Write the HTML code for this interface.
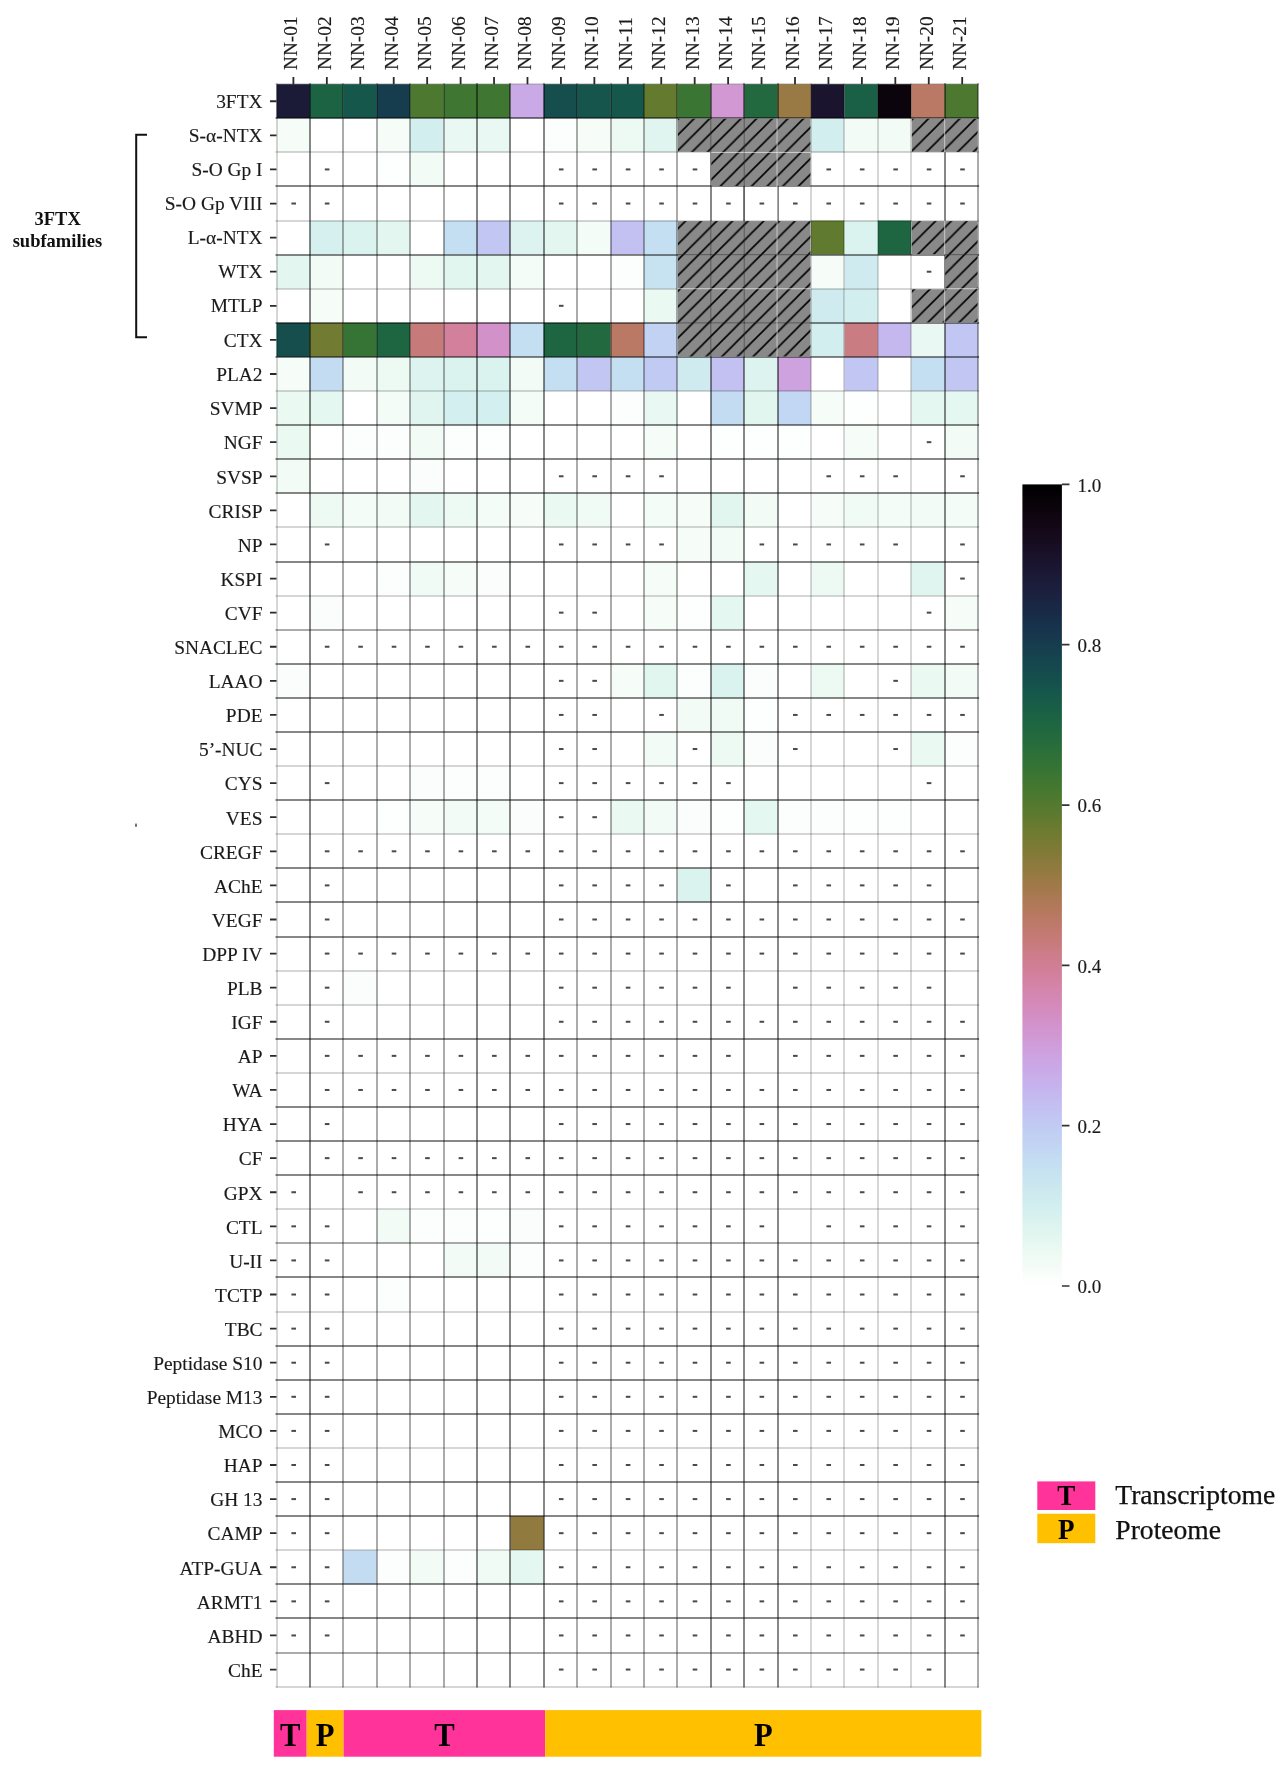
<!DOCTYPE html><html><head><meta charset="utf-8"><title>Heatmap</title><style>html,body{margin:0;padding:0;background:#fff;width:1288px;height:1772px;overflow:hidden}svg{display:block;will-change:transform}text{font-family:"Liberation Serif",serif}</style></head><body>
<svg width="1288" height="1772" viewBox="0 0 1288 1772">
<defs><pattern id="h" patternUnits="userSpaceOnUse" width="15.63" height="15.63"><rect width="15.63" height="15.63" fill="#898989"/><path d="M-3,3L3,-3M0,15.63L15.63,0M12.63,18.63L18.63,12.63" stroke="#000" stroke-width="1.6"/></pattern>
<linearGradient id="cb" x1="0" y1="1" x2="0" y2="0">
<stop offset="0.00" stop-color="#ffffff"/>
<stop offset="0.01" stop-color="#fbfefc"/>
<stop offset="0.02" stop-color="#f6fcf8"/>
<stop offset="0.03" stop-color="#f2fbf6"/>
<stop offset="0.04" stop-color="#edfaf4"/>
<stop offset="0.05" stop-color="#e9f8f2"/>
<stop offset="0.06" stop-color="#e3f6f0"/>
<stop offset="0.07" stop-color="#e0f5f0"/>
<stop offset="0.08" stop-color="#dbf3ef"/>
<stop offset="0.09" stop-color="#d6f0ef"/>
<stop offset="0.10" stop-color="#d3eeef"/>
<stop offset="0.11" stop-color="#cfebef"/>
<stop offset="0.12" stop-color="#cce9ef"/>
<stop offset="0.13" stop-color="#c9e5f0"/>
<stop offset="0.14" stop-color="#c7e3f1"/>
<stop offset="0.15" stop-color="#c5dff2"/>
<stop offset="0.16" stop-color="#c4dcf2"/>
<stop offset="0.17" stop-color="#c2d7f3"/>
<stop offset="0.18" stop-color="#c2d2f3"/>
<stop offset="0.19" stop-color="#c1cff3"/>
<stop offset="0.20" stop-color="#c1caf3"/>
<stop offset="0.21" stop-color="#c2c6f3"/>
<stop offset="0.22" stop-color="#c3c1f2"/>
<stop offset="0.23" stop-color="#c4bdf1"/>
<stop offset="0.24" stop-color="#c5b8ef"/>
<stop offset="0.25" stop-color="#c7b2ed"/>
<stop offset="0.26" stop-color="#c8afea"/>
<stop offset="0.27" stop-color="#caa9e7"/>
<stop offset="0.28" stop-color="#cca6e4"/>
<stop offset="0.29" stop-color="#cea1df"/>
<stop offset="0.30" stop-color="#cf9ddb"/>
<stop offset="0.31" stop-color="#d198d4"/>
<stop offset="0.32" stop-color="#d295d0"/>
<stop offset="0.33" stop-color="#d391c9"/>
<stop offset="0.34" stop-color="#d48dc1"/>
<stop offset="0.35" stop-color="#d48abb"/>
<stop offset="0.36" stop-color="#d487b2"/>
<stop offset="0.37" stop-color="#d485ac"/>
<stop offset="0.38" stop-color="#d382a3"/>
<stop offset="0.39" stop-color="#d2809c"/>
<stop offset="0.40" stop-color="#d07e93"/>
<stop offset="0.41" stop-color="#ce7d8c"/>
<stop offset="0.42" stop-color="#ca7c83"/>
<stop offset="0.43" stop-color="#c67a79"/>
<stop offset="0.44" stop-color="#c37a73"/>
<stop offset="0.45" stop-color="#be796a"/>
<stop offset="0.46" stop-color="#b97964"/>
<stop offset="0.47" stop-color="#b3795b"/>
<stop offset="0.48" stop-color="#ae7956"/>
<stop offset="0.49" stop-color="#a7794f"/>
<stop offset="0.50" stop-color="#9f7948"/>
<stop offset="0.51" stop-color="#997944"/>
<stop offset="0.52" stop-color="#907a3e"/>
<stop offset="0.53" stop-color="#8a7a3b"/>
<stop offset="0.54" stop-color="#817a37"/>
<stop offset="0.55" stop-color="#7b7a35"/>
<stop offset="0.56" stop-color="#727b32"/>
<stop offset="0.57" stop-color="#6c7b31"/>
<stop offset="0.58" stop-color="#637a2f"/>
<stop offset="0.59" stop-color="#5a7a2f"/>
<stop offset="0.60" stop-color="#54792f"/>
<stop offset="0.61" stop-color="#4c792f"/>
<stop offset="0.62" stop-color="#467830"/>
<stop offset="0.63" stop-color="#3f7632"/>
<stop offset="0.64" stop-color="#3a7533"/>
<stop offset="0.65" stop-color="#337335"/>
<stop offset="0.66" stop-color="#2f7137"/>
<stop offset="0.67" stop-color="#2a6e3a"/>
<stop offset="0.68" stop-color="#256b3d"/>
<stop offset="0.69" stop-color="#22693f"/>
<stop offset="0.70" stop-color="#1e6542"/>
<stop offset="0.71" stop-color="#1c6344"/>
<stop offset="0.72" stop-color="#195e47"/>
<stop offset="0.73" stop-color="#185b48"/>
<stop offset="0.74" stop-color="#16574b"/>
<stop offset="0.75" stop-color="#15524c"/>
<stop offset="0.76" stop-color="#154e4d"/>
<stop offset="0.77" stop-color="#15494e"/>
<stop offset="0.78" stop-color="#15464e"/>
<stop offset="0.79" stop-color="#16404e"/>
<stop offset="0.80" stop-color="#163d4e"/>
<stop offset="0.81" stop-color="#17374d"/>
<stop offset="0.82" stop-color="#17344c"/>
<stop offset="0.83" stop-color="#182f49"/>
<stop offset="0.84" stop-color="#192a46"/>
<stop offset="0.85" stop-color="#1a2744"/>
<stop offset="0.86" stop-color="#1a2240"/>
<stop offset="0.87" stop-color="#1b1f3d"/>
<stop offset="0.88" stop-color="#1b1b38"/>
<stop offset="0.89" stop-color="#1a1835"/>
<stop offset="0.90" stop-color="#1a142f"/>
<stop offset="0.91" stop-color="#19122b"/>
<stop offset="0.92" stop-color="#180f25"/>
<stop offset="0.93" stop-color="#160c1f"/>
<stop offset="0.94" stop-color="#140a1b"/>
<stop offset="0.95" stop-color="#110815"/>
<stop offset="0.96" stop-color="#0f0611"/>
<stop offset="0.97" stop-color="#0b040c"/>
<stop offset="0.98" stop-color="#080308"/>
<stop offset="0.99" stop-color="#030103"/>
<stop offset="1.00" stop-color="#000000"/>
</linearGradient></defs>
<rect x="276.50" y="84.20" width="33.43" height="34.11" fill="#1b1b38"/>
<rect x="309.91" y="84.20" width="33.43" height="34.11" fill="#1c6344"/>
<rect x="343.32" y="84.20" width="33.43" height="34.11" fill="#16574b"/>
<rect x="376.73" y="84.20" width="33.43" height="34.11" fill="#163d4e"/>
<rect x="410.14" y="84.20" width="33.43" height="34.11" fill="#4c792f"/>
<rect x="443.55" y="84.20" width="33.43" height="34.11" fill="#3f7632"/>
<rect x="476.96" y="84.20" width="33.43" height="34.11" fill="#3f7632"/>
<rect x="510.37" y="84.20" width="33.43" height="34.11" fill="#caa9e7"/>
<rect x="543.78" y="84.20" width="33.43" height="34.11" fill="#154e4d"/>
<rect x="577.19" y="84.20" width="33.43" height="34.11" fill="#16554b"/>
<rect x="610.60" y="84.20" width="33.43" height="34.11" fill="#16574b"/>
<rect x="644.00" y="84.20" width="33.43" height="34.11" fill="#637a2f"/>
<rect x="677.41" y="84.20" width="33.43" height="34.11" fill="#3a7533"/>
<rect x="710.82" y="84.20" width="33.43" height="34.11" fill="#d198d4"/>
<rect x="744.23" y="84.20" width="33.43" height="34.11" fill="#22693f"/>
<rect x="777.64" y="84.20" width="33.43" height="34.11" fill="#997944"/>
<rect x="811.05" y="84.20" width="33.43" height="34.11" fill="#1a142f"/>
<rect x="844.46" y="84.20" width="33.43" height="34.11" fill="#1a6046"/>
<rect x="877.87" y="84.20" width="33.43" height="34.11" fill="#0b040c"/>
<rect x="911.28" y="84.20" width="33.43" height="34.11" fill="#b97964"/>
<rect x="944.69" y="84.20" width="33.43" height="34.11" fill="#4c792f"/>
<rect x="276.50" y="118.29" width="33.43" height="34.11" fill="#f6fcf8"/>
<rect x="376.73" y="118.29" width="33.43" height="34.11" fill="#f6fcf8"/>
<rect x="410.14" y="118.29" width="33.43" height="34.11" fill="#d3eeef"/>
<rect x="443.55" y="118.29" width="33.43" height="34.11" fill="#e9f8f2"/>
<rect x="476.96" y="118.29" width="33.43" height="34.11" fill="#e9f8f2"/>
<rect x="543.78" y="118.29" width="33.43" height="34.11" fill="#fbfefc"/>
<rect x="577.19" y="118.29" width="33.43" height="34.11" fill="#f6fcf8"/>
<rect x="610.60" y="118.29" width="33.43" height="34.11" fill="#edfaf4"/>
<rect x="644.00" y="118.29" width="33.43" height="34.11" fill="#e0f5f0"/>
<rect x="811.05" y="118.29" width="33.43" height="34.11" fill="#d3eeef"/>
<rect x="844.46" y="118.29" width="33.43" height="34.11" fill="#f2fbf6"/>
<rect x="877.87" y="118.29" width="33.43" height="34.11" fill="#f2fbf6"/>
<rect x="376.73" y="152.39" width="33.43" height="34.11" fill="#fdfefe"/>
<rect x="410.14" y="152.39" width="33.43" height="34.11" fill="#f2fbf6"/>
<rect x="309.91" y="220.57" width="33.43" height="34.11" fill="#d6f0ef"/>
<rect x="343.32" y="220.57" width="33.43" height="34.11" fill="#dbf3ef"/>
<rect x="376.73" y="220.57" width="33.43" height="34.11" fill="#e3f6f0"/>
<rect x="443.55" y="220.57" width="33.43" height="34.11" fill="#c5dff2"/>
<rect x="476.96" y="220.57" width="33.43" height="34.11" fill="#c2c6f3"/>
<rect x="510.37" y="220.57" width="33.43" height="34.11" fill="#dcf3ef"/>
<rect x="543.78" y="220.57" width="33.43" height="34.11" fill="#e3f6f0"/>
<rect x="577.19" y="220.57" width="33.43" height="34.11" fill="#f4fcf7"/>
<rect x="610.60" y="220.57" width="33.43" height="34.11" fill="#c3c1f2"/>
<rect x="644.00" y="220.57" width="33.43" height="34.11" fill="#c5dff2"/>
<rect x="811.05" y="220.57" width="33.43" height="34.11" fill="#607a2f"/>
<rect x="844.46" y="220.57" width="33.43" height="34.11" fill="#dbf3ef"/>
<rect x="877.87" y="220.57" width="33.43" height="34.11" fill="#1e6542"/>
<rect x="276.50" y="254.67" width="33.43" height="34.11" fill="#e3f6f0"/>
<rect x="309.91" y="254.67" width="33.43" height="34.11" fill="#f2fbf6"/>
<rect x="410.14" y="254.67" width="33.43" height="34.11" fill="#edfaf4"/>
<rect x="443.55" y="254.67" width="33.43" height="34.11" fill="#e2f6f0"/>
<rect x="476.96" y="254.67" width="33.43" height="34.11" fill="#e3f6f0"/>
<rect x="510.37" y="254.67" width="33.43" height="34.11" fill="#f4fcf7"/>
<rect x="610.60" y="254.67" width="33.43" height="34.11" fill="#fbfefc"/>
<rect x="644.00" y="254.67" width="33.43" height="34.11" fill="#c7e3f1"/>
<rect x="811.05" y="254.67" width="33.43" height="34.11" fill="#f6fcf8"/>
<rect x="844.46" y="254.67" width="33.43" height="34.11" fill="#cfebef"/>
<rect x="309.91" y="288.76" width="33.43" height="34.11" fill="#f6fcf8"/>
<rect x="644.00" y="288.76" width="33.43" height="34.11" fill="#ebf9f3"/>
<rect x="811.05" y="288.76" width="33.43" height="34.11" fill="#cfebef"/>
<rect x="844.46" y="288.76" width="33.43" height="34.11" fill="#d3eeef"/>
<rect x="276.50" y="322.86" width="33.43" height="34.11" fill="#154e4d"/>
<rect x="309.91" y="322.86" width="33.43" height="34.11" fill="#727b32"/>
<rect x="343.32" y="322.86" width="33.43" height="34.11" fill="#357435"/>
<rect x="376.73" y="322.86" width="33.43" height="34.11" fill="#1e6542"/>
<rect x="410.14" y="322.86" width="33.43" height="34.11" fill="#c67a79"/>
<rect x="443.55" y="322.86" width="33.43" height="34.11" fill="#d2809c"/>
<rect x="476.96" y="322.86" width="33.43" height="34.11" fill="#d391c9"/>
<rect x="510.37" y="322.86" width="33.43" height="34.11" fill="#c5dff2"/>
<rect x="543.78" y="322.86" width="33.43" height="34.11" fill="#1e6542"/>
<rect x="577.19" y="322.86" width="33.43" height="34.11" fill="#22693f"/>
<rect x="610.60" y="322.86" width="33.43" height="34.11" fill="#b97964"/>
<rect x="644.00" y="322.86" width="33.43" height="34.11" fill="#c2d2f3"/>
<rect x="811.05" y="322.86" width="33.43" height="34.11" fill="#d3eeef"/>
<rect x="844.46" y="322.86" width="33.43" height="34.11" fill="#ca7c83"/>
<rect x="877.87" y="322.86" width="33.43" height="34.11" fill="#c5b8ef"/>
<rect x="911.28" y="322.86" width="33.43" height="34.11" fill="#e9f8f2"/>
<rect x="944.69" y="322.86" width="33.43" height="34.11" fill="#c2c6f3"/>
<rect x="276.50" y="356.95" width="33.43" height="34.11" fill="#f6fcf8"/>
<rect x="309.91" y="356.95" width="33.43" height="34.11" fill="#c4dcf2"/>
<rect x="343.32" y="356.95" width="33.43" height="34.11" fill="#f2fbf6"/>
<rect x="376.73" y="356.95" width="33.43" height="34.11" fill="#edfaf4"/>
<rect x="410.14" y="356.95" width="33.43" height="34.11" fill="#dcf3ef"/>
<rect x="443.55" y="356.95" width="33.43" height="34.11" fill="#dbf3ef"/>
<rect x="476.96" y="356.95" width="33.43" height="34.11" fill="#dbf3ef"/>
<rect x="510.37" y="356.95" width="33.43" height="34.11" fill="#f2fbf6"/>
<rect x="543.78" y="356.95" width="33.43" height="34.11" fill="#c5dff2"/>
<rect x="577.19" y="356.95" width="33.43" height="34.11" fill="#c2c6f3"/>
<rect x="610.60" y="356.95" width="33.43" height="34.11" fill="#c5dff2"/>
<rect x="644.00" y="356.95" width="33.43" height="34.11" fill="#c1caf3"/>
<rect x="677.41" y="356.95" width="33.43" height="34.11" fill="#cfebef"/>
<rect x="710.82" y="356.95" width="33.43" height="34.11" fill="#c3c1f2"/>
<rect x="744.23" y="356.95" width="33.43" height="34.11" fill="#dcf3ef"/>
<rect x="777.64" y="356.95" width="33.43" height="34.11" fill="#cea1df"/>
<rect x="844.46" y="356.95" width="33.43" height="34.11" fill="#c2c6f3"/>
<rect x="911.28" y="356.95" width="33.43" height="34.11" fill="#c5dff2"/>
<rect x="944.69" y="356.95" width="33.43" height="34.11" fill="#c2c6f3"/>
<rect x="276.50" y="391.04" width="33.43" height="34.11" fill="#ebf9f3"/>
<rect x="309.91" y="391.04" width="33.43" height="34.11" fill="#e5f7f1"/>
<rect x="376.73" y="391.04" width="33.43" height="34.11" fill="#f4fcf7"/>
<rect x="410.14" y="391.04" width="33.43" height="34.11" fill="#e0f5f0"/>
<rect x="443.55" y="391.04" width="33.43" height="34.11" fill="#d4efef"/>
<rect x="476.96" y="391.04" width="33.43" height="34.11" fill="#d4efef"/>
<rect x="510.37" y="391.04" width="33.43" height="34.11" fill="#f4fcf7"/>
<rect x="610.60" y="391.04" width="33.43" height="34.11" fill="#fbfefc"/>
<rect x="644.00" y="391.04" width="33.43" height="34.11" fill="#e9f8f2"/>
<rect x="710.82" y="391.04" width="33.43" height="34.11" fill="#c4dcf2"/>
<rect x="744.23" y="391.04" width="33.43" height="34.11" fill="#e2f6f0"/>
<rect x="777.64" y="391.04" width="33.43" height="34.11" fill="#c2d7f3"/>
<rect x="811.05" y="391.04" width="33.43" height="34.11" fill="#f6fcf8"/>
<rect x="844.46" y="391.04" width="33.43" height="34.11" fill="#fdfefe"/>
<rect x="911.28" y="391.04" width="33.43" height="34.11" fill="#e5f7f1"/>
<rect x="944.69" y="391.04" width="33.43" height="34.11" fill="#e5f7f1"/>
<rect x="276.50" y="425.14" width="33.43" height="34.11" fill="#ebf9f3"/>
<rect x="343.32" y="425.14" width="33.43" height="34.11" fill="#fbfefc"/>
<rect x="376.73" y="425.14" width="33.43" height="34.11" fill="#fbfefc"/>
<rect x="410.14" y="425.14" width="33.43" height="34.11" fill="#f2fbf6"/>
<rect x="443.55" y="425.14" width="33.43" height="34.11" fill="#fbfefc"/>
<rect x="476.96" y="425.14" width="33.43" height="34.11" fill="#fdfefe"/>
<rect x="644.00" y="425.14" width="33.43" height="34.11" fill="#f6fcf8"/>
<rect x="710.82" y="425.14" width="33.43" height="34.11" fill="#fdfefe"/>
<rect x="744.23" y="425.14" width="33.43" height="34.11" fill="#fdfefe"/>
<rect x="777.64" y="425.14" width="33.43" height="34.11" fill="#fdfefe"/>
<rect x="844.46" y="425.14" width="33.43" height="34.11" fill="#f6fcf8"/>
<rect x="944.69" y="425.14" width="33.43" height="34.11" fill="#f2fbf6"/>
<rect x="276.50" y="459.23" width="33.43" height="34.11" fill="#f2fbf6"/>
<rect x="410.14" y="459.23" width="33.43" height="34.11" fill="#fafdfb"/>
<rect x="309.91" y="493.32" width="33.43" height="34.11" fill="#edfaf4"/>
<rect x="343.32" y="493.32" width="33.43" height="34.11" fill="#f4fcf7"/>
<rect x="376.73" y="493.32" width="33.43" height="34.11" fill="#f2fbf6"/>
<rect x="410.14" y="493.32" width="33.43" height="34.11" fill="#e3f6f0"/>
<rect x="443.55" y="493.32" width="33.43" height="34.11" fill="#edfaf4"/>
<rect x="476.96" y="493.32" width="33.43" height="34.11" fill="#f4fcf7"/>
<rect x="510.37" y="493.32" width="33.43" height="34.11" fill="#f6fcf8"/>
<rect x="543.78" y="493.32" width="33.43" height="34.11" fill="#ebf9f3"/>
<rect x="577.19" y="493.32" width="33.43" height="34.11" fill="#f0fbf5"/>
<rect x="644.00" y="493.32" width="33.43" height="34.11" fill="#f4fcf7"/>
<rect x="677.41" y="493.32" width="33.43" height="34.11" fill="#f6fcf8"/>
<rect x="710.82" y="493.32" width="33.43" height="34.11" fill="#e2f6f0"/>
<rect x="744.23" y="493.32" width="33.43" height="34.11" fill="#f2fbf6"/>
<rect x="811.05" y="493.32" width="33.43" height="34.11" fill="#f6fcf8"/>
<rect x="844.46" y="493.32" width="33.43" height="34.11" fill="#f0fbf5"/>
<rect x="877.87" y="493.32" width="33.43" height="34.11" fill="#f4fcf7"/>
<rect x="911.28" y="493.32" width="33.43" height="34.11" fill="#f2fbf6"/>
<rect x="944.69" y="493.32" width="33.43" height="34.11" fill="#f4fcf7"/>
<rect x="677.41" y="527.42" width="33.43" height="34.11" fill="#f6fcf8"/>
<rect x="710.82" y="527.42" width="33.43" height="34.11" fill="#f2fbf6"/>
<rect x="376.73" y="561.51" width="33.43" height="34.11" fill="#fbfefc"/>
<rect x="410.14" y="561.51" width="33.43" height="34.11" fill="#f0fbf5"/>
<rect x="443.55" y="561.51" width="33.43" height="34.11" fill="#f6fcf8"/>
<rect x="476.96" y="561.51" width="33.43" height="34.11" fill="#fafdfb"/>
<rect x="644.00" y="561.51" width="33.43" height="34.11" fill="#f6fcf8"/>
<rect x="744.23" y="561.51" width="33.43" height="34.11" fill="#e5f7f1"/>
<rect x="811.05" y="561.51" width="33.43" height="34.11" fill="#edfaf4"/>
<rect x="911.28" y="561.51" width="33.43" height="34.11" fill="#e0f5f0"/>
<rect x="309.91" y="595.60" width="33.43" height="34.11" fill="#fafdfb"/>
<rect x="644.00" y="595.60" width="33.43" height="34.11" fill="#f6fcf8"/>
<rect x="677.41" y="595.60" width="33.43" height="34.11" fill="#fdfefe"/>
<rect x="710.82" y="595.60" width="33.43" height="34.11" fill="#e5f7f1"/>
<rect x="944.69" y="595.60" width="33.43" height="34.11" fill="#f6fcf8"/>
<rect x="276.50" y="663.79" width="33.43" height="34.11" fill="#fafdfb"/>
<rect x="610.60" y="663.79" width="33.43" height="34.11" fill="#f6fcf8"/>
<rect x="644.00" y="663.79" width="33.43" height="34.11" fill="#e2f6f0"/>
<rect x="677.41" y="663.79" width="33.43" height="34.11" fill="#fbfefc"/>
<rect x="710.82" y="663.79" width="33.43" height="34.11" fill="#dbf3ef"/>
<rect x="744.23" y="663.79" width="33.43" height="34.11" fill="#fafdfb"/>
<rect x="811.05" y="663.79" width="33.43" height="34.11" fill="#edfaf4"/>
<rect x="911.28" y="663.79" width="33.43" height="34.11" fill="#ebf9f3"/>
<rect x="944.69" y="663.79" width="33.43" height="34.11" fill="#f2fbf6"/>
<rect x="677.41" y="697.89" width="33.43" height="34.11" fill="#f2fbf6"/>
<rect x="710.82" y="697.89" width="33.43" height="34.11" fill="#f0fbf5"/>
<rect x="744.23" y="697.89" width="33.43" height="34.11" fill="#fdfefe"/>
<rect x="644.00" y="731.98" width="33.43" height="34.11" fill="#f2fbf6"/>
<rect x="710.82" y="731.98" width="33.43" height="34.11" fill="#edfaf4"/>
<rect x="744.23" y="731.98" width="33.43" height="34.11" fill="#fafdfb"/>
<rect x="911.28" y="731.98" width="33.43" height="34.11" fill="#ebf9f3"/>
<rect x="944.69" y="731.98" width="33.43" height="34.11" fill="#fbfefc"/>
<rect x="410.14" y="766.07" width="33.43" height="34.11" fill="#fafdfb"/>
<rect x="443.55" y="766.07" width="33.43" height="34.11" fill="#fbfefc"/>
<rect x="476.96" y="766.07" width="33.43" height="34.11" fill="#fbfefc"/>
<rect x="376.73" y="800.17" width="33.43" height="34.11" fill="#fdfefe"/>
<rect x="410.14" y="800.17" width="33.43" height="34.11" fill="#f6fcf8"/>
<rect x="443.55" y="800.17" width="33.43" height="34.11" fill="#f2fbf6"/>
<rect x="476.96" y="800.17" width="33.43" height="34.11" fill="#f4fcf7"/>
<rect x="510.37" y="800.17" width="33.43" height="34.11" fill="#fafdfb"/>
<rect x="610.60" y="800.17" width="33.43" height="34.11" fill="#ebf9f3"/>
<rect x="644.00" y="800.17" width="33.43" height="34.11" fill="#f2fbf6"/>
<rect x="677.41" y="800.17" width="33.43" height="34.11" fill="#fafdfb"/>
<rect x="710.82" y="800.17" width="33.43" height="34.11" fill="#fdfefe"/>
<rect x="744.23" y="800.17" width="33.43" height="34.11" fill="#e5f7f1"/>
<rect x="777.64" y="800.17" width="33.43" height="34.11" fill="#fbfefc"/>
<rect x="811.05" y="800.17" width="33.43" height="34.11" fill="#fbfefc"/>
<rect x="844.46" y="800.17" width="33.43" height="34.11" fill="#fdfefe"/>
<rect x="877.87" y="800.17" width="33.43" height="34.11" fill="#fdfefe"/>
<rect x="677.41" y="868.35" width="33.43" height="34.11" fill="#dbf3ef"/>
<rect x="343.32" y="970.63" width="33.43" height="34.11" fill="#fafdfb"/>
<rect x="376.73" y="1209.29" width="33.43" height="34.11" fill="#f2fbf6"/>
<rect x="410.14" y="1209.29" width="33.43" height="34.11" fill="#fbfefc"/>
<rect x="443.55" y="1209.29" width="33.43" height="34.11" fill="#fbfefc"/>
<rect x="476.96" y="1209.29" width="33.43" height="34.11" fill="#fdfefe"/>
<rect x="510.37" y="1209.29" width="33.43" height="34.11" fill="#fafdfb"/>
<rect x="443.55" y="1243.38" width="33.43" height="34.11" fill="#f2fbf6"/>
<rect x="476.96" y="1243.38" width="33.43" height="34.11" fill="#f2fbf6"/>
<rect x="510.37" y="1243.38" width="33.43" height="34.11" fill="#fbfefc"/>
<rect x="376.73" y="1277.48" width="33.43" height="34.11" fill="#fbfefc"/>
<rect x="510.37" y="1516.13" width="33.43" height="34.11" fill="#907a3e"/>
<rect x="343.32" y="1550.23" width="33.43" height="34.11" fill="#c4dcf2"/>
<rect x="376.73" y="1550.23" width="33.43" height="34.11" fill="#fbfefc"/>
<rect x="410.14" y="1550.23" width="33.43" height="34.11" fill="#f2fbf6"/>
<rect x="443.55" y="1550.23" width="33.43" height="34.11" fill="#fbfefc"/>
<rect x="476.96" y="1550.23" width="33.43" height="34.11" fill="#f0fbf5"/>
<rect x="510.37" y="1550.23" width="33.43" height="34.11" fill="#e5f7f1"/>
<rect x="324.84" y="168.43" width="4.6" height="2" fill="#4a4a4a"/>
<rect x="558.92" y="168.43" width="4.6" height="2" fill="#4a4a4a"/>
<rect x="592.36" y="168.43" width="4.6" height="2" fill="#4a4a4a"/>
<rect x="625.80" y="168.43" width="4.6" height="2" fill="#4a4a4a"/>
<rect x="659.24" y="168.43" width="4.6" height="2" fill="#4a4a4a"/>
<rect x="692.68" y="168.43" width="4.6" height="2" fill="#4a4a4a"/>
<rect x="826.44" y="168.43" width="4.6" height="2" fill="#4a4a4a"/>
<rect x="859.88" y="168.43" width="4.6" height="2" fill="#4a4a4a"/>
<rect x="893.32" y="168.43" width="4.6" height="2" fill="#4a4a4a"/>
<rect x="926.76" y="168.43" width="4.6" height="2" fill="#4a4a4a"/>
<rect x="960.20" y="168.43" width="4.6" height="2" fill="#4a4a4a"/>
<rect x="291.40" y="202.53" width="4.6" height="2" fill="#4a4a4a"/>
<rect x="324.84" y="202.53" width="4.6" height="2" fill="#4a4a4a"/>
<rect x="558.92" y="202.53" width="4.6" height="2" fill="#4a4a4a"/>
<rect x="592.36" y="202.53" width="4.6" height="2" fill="#4a4a4a"/>
<rect x="625.80" y="202.53" width="4.6" height="2" fill="#4a4a4a"/>
<rect x="659.24" y="202.53" width="4.6" height="2" fill="#4a4a4a"/>
<rect x="692.68" y="202.53" width="4.6" height="2" fill="#4a4a4a"/>
<rect x="726.12" y="202.53" width="4.6" height="2" fill="#4a4a4a"/>
<rect x="759.56" y="202.53" width="4.6" height="2" fill="#4a4a4a"/>
<rect x="793.00" y="202.53" width="4.6" height="2" fill="#4a4a4a"/>
<rect x="826.44" y="202.53" width="4.6" height="2" fill="#4a4a4a"/>
<rect x="859.88" y="202.53" width="4.6" height="2" fill="#4a4a4a"/>
<rect x="893.32" y="202.53" width="4.6" height="2" fill="#4a4a4a"/>
<rect x="926.76" y="202.53" width="4.6" height="2" fill="#4a4a4a"/>
<rect x="960.20" y="202.53" width="4.6" height="2" fill="#4a4a4a"/>
<rect x="926.76" y="270.71" width="4.6" height="2" fill="#4a4a4a"/>
<rect x="558.92" y="304.81" width="4.6" height="2" fill="#4a4a4a"/>
<rect x="926.76" y="441.18" width="4.6" height="2" fill="#4a4a4a"/>
<rect x="558.92" y="475.28" width="4.6" height="2" fill="#4a4a4a"/>
<rect x="592.36" y="475.28" width="4.6" height="2" fill="#4a4a4a"/>
<rect x="625.80" y="475.28" width="4.6" height="2" fill="#4a4a4a"/>
<rect x="659.24" y="475.28" width="4.6" height="2" fill="#4a4a4a"/>
<rect x="826.44" y="475.28" width="4.6" height="2" fill="#4a4a4a"/>
<rect x="859.88" y="475.28" width="4.6" height="2" fill="#4a4a4a"/>
<rect x="893.32" y="475.28" width="4.6" height="2" fill="#4a4a4a"/>
<rect x="960.20" y="475.28" width="4.6" height="2" fill="#4a4a4a"/>
<rect x="324.84" y="543.46" width="4.6" height="2" fill="#4a4a4a"/>
<rect x="558.92" y="543.46" width="4.6" height="2" fill="#4a4a4a"/>
<rect x="592.36" y="543.46" width="4.6" height="2" fill="#4a4a4a"/>
<rect x="625.80" y="543.46" width="4.6" height="2" fill="#4a4a4a"/>
<rect x="659.24" y="543.46" width="4.6" height="2" fill="#4a4a4a"/>
<rect x="759.56" y="543.46" width="4.6" height="2" fill="#4a4a4a"/>
<rect x="793.00" y="543.46" width="4.6" height="2" fill="#4a4a4a"/>
<rect x="826.44" y="543.46" width="4.6" height="2" fill="#4a4a4a"/>
<rect x="859.88" y="543.46" width="4.6" height="2" fill="#4a4a4a"/>
<rect x="893.32" y="543.46" width="4.6" height="2" fill="#4a4a4a"/>
<rect x="960.20" y="543.46" width="4.6" height="2" fill="#4a4a4a"/>
<rect x="960.20" y="577.56" width="4.6" height="2" fill="#4a4a4a"/>
<rect x="558.92" y="611.65" width="4.6" height="2" fill="#4a4a4a"/>
<rect x="592.36" y="611.65" width="4.6" height="2" fill="#4a4a4a"/>
<rect x="926.76" y="611.65" width="4.6" height="2" fill="#4a4a4a"/>
<rect x="324.84" y="645.74" width="4.6" height="2" fill="#4a4a4a"/>
<rect x="358.28" y="645.74" width="4.6" height="2" fill="#4a4a4a"/>
<rect x="391.72" y="645.74" width="4.6" height="2" fill="#4a4a4a"/>
<rect x="425.16" y="645.74" width="4.6" height="2" fill="#4a4a4a"/>
<rect x="458.60" y="645.74" width="4.6" height="2" fill="#4a4a4a"/>
<rect x="492.04" y="645.74" width="4.6" height="2" fill="#4a4a4a"/>
<rect x="525.48" y="645.74" width="4.6" height="2" fill="#4a4a4a"/>
<rect x="558.92" y="645.74" width="4.6" height="2" fill="#4a4a4a"/>
<rect x="592.36" y="645.74" width="4.6" height="2" fill="#4a4a4a"/>
<rect x="625.80" y="645.74" width="4.6" height="2" fill="#4a4a4a"/>
<rect x="659.24" y="645.74" width="4.6" height="2" fill="#4a4a4a"/>
<rect x="692.68" y="645.74" width="4.6" height="2" fill="#4a4a4a"/>
<rect x="726.12" y="645.74" width="4.6" height="2" fill="#4a4a4a"/>
<rect x="759.56" y="645.74" width="4.6" height="2" fill="#4a4a4a"/>
<rect x="793.00" y="645.74" width="4.6" height="2" fill="#4a4a4a"/>
<rect x="826.44" y="645.74" width="4.6" height="2" fill="#4a4a4a"/>
<rect x="859.88" y="645.74" width="4.6" height="2" fill="#4a4a4a"/>
<rect x="893.32" y="645.74" width="4.6" height="2" fill="#4a4a4a"/>
<rect x="926.76" y="645.74" width="4.6" height="2" fill="#4a4a4a"/>
<rect x="960.20" y="645.74" width="4.6" height="2" fill="#4a4a4a"/>
<rect x="558.92" y="679.84" width="4.6" height="2" fill="#4a4a4a"/>
<rect x="592.36" y="679.84" width="4.6" height="2" fill="#4a4a4a"/>
<rect x="893.32" y="679.84" width="4.6" height="2" fill="#4a4a4a"/>
<rect x="558.92" y="713.93" width="4.6" height="2" fill="#4a4a4a"/>
<rect x="592.36" y="713.93" width="4.6" height="2" fill="#4a4a4a"/>
<rect x="659.24" y="713.93" width="4.6" height="2" fill="#4a4a4a"/>
<rect x="793.00" y="713.93" width="4.6" height="2" fill="#4a4a4a"/>
<rect x="826.44" y="713.93" width="4.6" height="2" fill="#4a4a4a"/>
<rect x="859.88" y="713.93" width="4.6" height="2" fill="#4a4a4a"/>
<rect x="893.32" y="713.93" width="4.6" height="2" fill="#4a4a4a"/>
<rect x="926.76" y="713.93" width="4.6" height="2" fill="#4a4a4a"/>
<rect x="960.20" y="713.93" width="4.6" height="2" fill="#4a4a4a"/>
<rect x="558.92" y="748.03" width="4.6" height="2" fill="#4a4a4a"/>
<rect x="592.36" y="748.03" width="4.6" height="2" fill="#4a4a4a"/>
<rect x="692.68" y="748.03" width="4.6" height="2" fill="#4a4a4a"/>
<rect x="793.00" y="748.03" width="4.6" height="2" fill="#4a4a4a"/>
<rect x="893.32" y="748.03" width="4.6" height="2" fill="#4a4a4a"/>
<rect x="324.84" y="782.12" width="4.6" height="2" fill="#4a4a4a"/>
<rect x="558.92" y="782.12" width="4.6" height="2" fill="#4a4a4a"/>
<rect x="592.36" y="782.12" width="4.6" height="2" fill="#4a4a4a"/>
<rect x="625.80" y="782.12" width="4.6" height="2" fill="#4a4a4a"/>
<rect x="659.24" y="782.12" width="4.6" height="2" fill="#4a4a4a"/>
<rect x="692.68" y="782.12" width="4.6" height="2" fill="#4a4a4a"/>
<rect x="726.12" y="782.12" width="4.6" height="2" fill="#4a4a4a"/>
<rect x="926.76" y="782.12" width="4.6" height="2" fill="#4a4a4a"/>
<rect x="558.92" y="816.21" width="4.6" height="2" fill="#4a4a4a"/>
<rect x="592.36" y="816.21" width="4.6" height="2" fill="#4a4a4a"/>
<rect x="324.84" y="850.31" width="4.6" height="2" fill="#4a4a4a"/>
<rect x="358.28" y="850.31" width="4.6" height="2" fill="#4a4a4a"/>
<rect x="391.72" y="850.31" width="4.6" height="2" fill="#4a4a4a"/>
<rect x="425.16" y="850.31" width="4.6" height="2" fill="#4a4a4a"/>
<rect x="458.60" y="850.31" width="4.6" height="2" fill="#4a4a4a"/>
<rect x="492.04" y="850.31" width="4.6" height="2" fill="#4a4a4a"/>
<rect x="525.48" y="850.31" width="4.6" height="2" fill="#4a4a4a"/>
<rect x="558.92" y="850.31" width="4.6" height="2" fill="#4a4a4a"/>
<rect x="592.36" y="850.31" width="4.6" height="2" fill="#4a4a4a"/>
<rect x="625.80" y="850.31" width="4.6" height="2" fill="#4a4a4a"/>
<rect x="659.24" y="850.31" width="4.6" height="2" fill="#4a4a4a"/>
<rect x="692.68" y="850.31" width="4.6" height="2" fill="#4a4a4a"/>
<rect x="726.12" y="850.31" width="4.6" height="2" fill="#4a4a4a"/>
<rect x="759.56" y="850.31" width="4.6" height="2" fill="#4a4a4a"/>
<rect x="793.00" y="850.31" width="4.6" height="2" fill="#4a4a4a"/>
<rect x="826.44" y="850.31" width="4.6" height="2" fill="#4a4a4a"/>
<rect x="859.88" y="850.31" width="4.6" height="2" fill="#4a4a4a"/>
<rect x="893.32" y="850.31" width="4.6" height="2" fill="#4a4a4a"/>
<rect x="926.76" y="850.31" width="4.6" height="2" fill="#4a4a4a"/>
<rect x="960.20" y="850.31" width="4.6" height="2" fill="#4a4a4a"/>
<rect x="324.84" y="884.40" width="4.6" height="2" fill="#4a4a4a"/>
<rect x="558.92" y="884.40" width="4.6" height="2" fill="#4a4a4a"/>
<rect x="592.36" y="884.40" width="4.6" height="2" fill="#4a4a4a"/>
<rect x="625.80" y="884.40" width="4.6" height="2" fill="#4a4a4a"/>
<rect x="659.24" y="884.40" width="4.6" height="2" fill="#4a4a4a"/>
<rect x="726.12" y="884.40" width="4.6" height="2" fill="#4a4a4a"/>
<rect x="793.00" y="884.40" width="4.6" height="2" fill="#4a4a4a"/>
<rect x="826.44" y="884.40" width="4.6" height="2" fill="#4a4a4a"/>
<rect x="859.88" y="884.40" width="4.6" height="2" fill="#4a4a4a"/>
<rect x="893.32" y="884.40" width="4.6" height="2" fill="#4a4a4a"/>
<rect x="926.76" y="884.40" width="4.6" height="2" fill="#4a4a4a"/>
<rect x="324.84" y="918.49" width="4.6" height="2" fill="#4a4a4a"/>
<rect x="558.92" y="918.49" width="4.6" height="2" fill="#4a4a4a"/>
<rect x="592.36" y="918.49" width="4.6" height="2" fill="#4a4a4a"/>
<rect x="625.80" y="918.49" width="4.6" height="2" fill="#4a4a4a"/>
<rect x="659.24" y="918.49" width="4.6" height="2" fill="#4a4a4a"/>
<rect x="692.68" y="918.49" width="4.6" height="2" fill="#4a4a4a"/>
<rect x="726.12" y="918.49" width="4.6" height="2" fill="#4a4a4a"/>
<rect x="759.56" y="918.49" width="4.6" height="2" fill="#4a4a4a"/>
<rect x="793.00" y="918.49" width="4.6" height="2" fill="#4a4a4a"/>
<rect x="826.44" y="918.49" width="4.6" height="2" fill="#4a4a4a"/>
<rect x="859.88" y="918.49" width="4.6" height="2" fill="#4a4a4a"/>
<rect x="893.32" y="918.49" width="4.6" height="2" fill="#4a4a4a"/>
<rect x="926.76" y="918.49" width="4.6" height="2" fill="#4a4a4a"/>
<rect x="960.20" y="918.49" width="4.6" height="2" fill="#4a4a4a"/>
<rect x="324.84" y="952.59" width="4.6" height="2" fill="#4a4a4a"/>
<rect x="358.28" y="952.59" width="4.6" height="2" fill="#4a4a4a"/>
<rect x="391.72" y="952.59" width="4.6" height="2" fill="#4a4a4a"/>
<rect x="425.16" y="952.59" width="4.6" height="2" fill="#4a4a4a"/>
<rect x="458.60" y="952.59" width="4.6" height="2" fill="#4a4a4a"/>
<rect x="492.04" y="952.59" width="4.6" height="2" fill="#4a4a4a"/>
<rect x="525.48" y="952.59" width="4.6" height="2" fill="#4a4a4a"/>
<rect x="558.92" y="952.59" width="4.6" height="2" fill="#4a4a4a"/>
<rect x="592.36" y="952.59" width="4.6" height="2" fill="#4a4a4a"/>
<rect x="625.80" y="952.59" width="4.6" height="2" fill="#4a4a4a"/>
<rect x="659.24" y="952.59" width="4.6" height="2" fill="#4a4a4a"/>
<rect x="692.68" y="952.59" width="4.6" height="2" fill="#4a4a4a"/>
<rect x="726.12" y="952.59" width="4.6" height="2" fill="#4a4a4a"/>
<rect x="759.56" y="952.59" width="4.6" height="2" fill="#4a4a4a"/>
<rect x="793.00" y="952.59" width="4.6" height="2" fill="#4a4a4a"/>
<rect x="826.44" y="952.59" width="4.6" height="2" fill="#4a4a4a"/>
<rect x="859.88" y="952.59" width="4.6" height="2" fill="#4a4a4a"/>
<rect x="893.32" y="952.59" width="4.6" height="2" fill="#4a4a4a"/>
<rect x="926.76" y="952.59" width="4.6" height="2" fill="#4a4a4a"/>
<rect x="960.20" y="952.59" width="4.6" height="2" fill="#4a4a4a"/>
<rect x="324.84" y="986.68" width="4.6" height="2" fill="#4a4a4a"/>
<rect x="558.92" y="986.68" width="4.6" height="2" fill="#4a4a4a"/>
<rect x="592.36" y="986.68" width="4.6" height="2" fill="#4a4a4a"/>
<rect x="625.80" y="986.68" width="4.6" height="2" fill="#4a4a4a"/>
<rect x="659.24" y="986.68" width="4.6" height="2" fill="#4a4a4a"/>
<rect x="692.68" y="986.68" width="4.6" height="2" fill="#4a4a4a"/>
<rect x="726.12" y="986.68" width="4.6" height="2" fill="#4a4a4a"/>
<rect x="793.00" y="986.68" width="4.6" height="2" fill="#4a4a4a"/>
<rect x="826.44" y="986.68" width="4.6" height="2" fill="#4a4a4a"/>
<rect x="859.88" y="986.68" width="4.6" height="2" fill="#4a4a4a"/>
<rect x="893.32" y="986.68" width="4.6" height="2" fill="#4a4a4a"/>
<rect x="926.76" y="986.68" width="4.6" height="2" fill="#4a4a4a"/>
<rect x="324.84" y="1020.77" width="4.6" height="2" fill="#4a4a4a"/>
<rect x="558.92" y="1020.77" width="4.6" height="2" fill="#4a4a4a"/>
<rect x="592.36" y="1020.77" width="4.6" height="2" fill="#4a4a4a"/>
<rect x="625.80" y="1020.77" width="4.6" height="2" fill="#4a4a4a"/>
<rect x="659.24" y="1020.77" width="4.6" height="2" fill="#4a4a4a"/>
<rect x="692.68" y="1020.77" width="4.6" height="2" fill="#4a4a4a"/>
<rect x="726.12" y="1020.77" width="4.6" height="2" fill="#4a4a4a"/>
<rect x="759.56" y="1020.77" width="4.6" height="2" fill="#4a4a4a"/>
<rect x="793.00" y="1020.77" width="4.6" height="2" fill="#4a4a4a"/>
<rect x="826.44" y="1020.77" width="4.6" height="2" fill="#4a4a4a"/>
<rect x="859.88" y="1020.77" width="4.6" height="2" fill="#4a4a4a"/>
<rect x="893.32" y="1020.77" width="4.6" height="2" fill="#4a4a4a"/>
<rect x="926.76" y="1020.77" width="4.6" height="2" fill="#4a4a4a"/>
<rect x="960.20" y="1020.77" width="4.6" height="2" fill="#4a4a4a"/>
<rect x="324.84" y="1054.87" width="4.6" height="2" fill="#4a4a4a"/>
<rect x="358.28" y="1054.87" width="4.6" height="2" fill="#4a4a4a"/>
<rect x="391.72" y="1054.87" width="4.6" height="2" fill="#4a4a4a"/>
<rect x="425.16" y="1054.87" width="4.6" height="2" fill="#4a4a4a"/>
<rect x="458.60" y="1054.87" width="4.6" height="2" fill="#4a4a4a"/>
<rect x="492.04" y="1054.87" width="4.6" height="2" fill="#4a4a4a"/>
<rect x="525.48" y="1054.87" width="4.6" height="2" fill="#4a4a4a"/>
<rect x="558.92" y="1054.87" width="4.6" height="2" fill="#4a4a4a"/>
<rect x="592.36" y="1054.87" width="4.6" height="2" fill="#4a4a4a"/>
<rect x="625.80" y="1054.87" width="4.6" height="2" fill="#4a4a4a"/>
<rect x="659.24" y="1054.87" width="4.6" height="2" fill="#4a4a4a"/>
<rect x="692.68" y="1054.87" width="4.6" height="2" fill="#4a4a4a"/>
<rect x="726.12" y="1054.87" width="4.6" height="2" fill="#4a4a4a"/>
<rect x="793.00" y="1054.87" width="4.6" height="2" fill="#4a4a4a"/>
<rect x="826.44" y="1054.87" width="4.6" height="2" fill="#4a4a4a"/>
<rect x="859.88" y="1054.87" width="4.6" height="2" fill="#4a4a4a"/>
<rect x="893.32" y="1054.87" width="4.6" height="2" fill="#4a4a4a"/>
<rect x="926.76" y="1054.87" width="4.6" height="2" fill="#4a4a4a"/>
<rect x="960.20" y="1054.87" width="4.6" height="2" fill="#4a4a4a"/>
<rect x="324.84" y="1088.96" width="4.6" height="2" fill="#4a4a4a"/>
<rect x="358.28" y="1088.96" width="4.6" height="2" fill="#4a4a4a"/>
<rect x="391.72" y="1088.96" width="4.6" height="2" fill="#4a4a4a"/>
<rect x="425.16" y="1088.96" width="4.6" height="2" fill="#4a4a4a"/>
<rect x="458.60" y="1088.96" width="4.6" height="2" fill="#4a4a4a"/>
<rect x="492.04" y="1088.96" width="4.6" height="2" fill="#4a4a4a"/>
<rect x="525.48" y="1088.96" width="4.6" height="2" fill="#4a4a4a"/>
<rect x="558.92" y="1088.96" width="4.6" height="2" fill="#4a4a4a"/>
<rect x="592.36" y="1088.96" width="4.6" height="2" fill="#4a4a4a"/>
<rect x="625.80" y="1088.96" width="4.6" height="2" fill="#4a4a4a"/>
<rect x="659.24" y="1088.96" width="4.6" height="2" fill="#4a4a4a"/>
<rect x="692.68" y="1088.96" width="4.6" height="2" fill="#4a4a4a"/>
<rect x="726.12" y="1088.96" width="4.6" height="2" fill="#4a4a4a"/>
<rect x="759.56" y="1088.96" width="4.6" height="2" fill="#4a4a4a"/>
<rect x="793.00" y="1088.96" width="4.6" height="2" fill="#4a4a4a"/>
<rect x="826.44" y="1088.96" width="4.6" height="2" fill="#4a4a4a"/>
<rect x="859.88" y="1088.96" width="4.6" height="2" fill="#4a4a4a"/>
<rect x="893.32" y="1088.96" width="4.6" height="2" fill="#4a4a4a"/>
<rect x="926.76" y="1088.96" width="4.6" height="2" fill="#4a4a4a"/>
<rect x="960.20" y="1088.96" width="4.6" height="2" fill="#4a4a4a"/>
<rect x="324.84" y="1123.06" width="4.6" height="2" fill="#4a4a4a"/>
<rect x="558.92" y="1123.06" width="4.6" height="2" fill="#4a4a4a"/>
<rect x="592.36" y="1123.06" width="4.6" height="2" fill="#4a4a4a"/>
<rect x="625.80" y="1123.06" width="4.6" height="2" fill="#4a4a4a"/>
<rect x="659.24" y="1123.06" width="4.6" height="2" fill="#4a4a4a"/>
<rect x="692.68" y="1123.06" width="4.6" height="2" fill="#4a4a4a"/>
<rect x="726.12" y="1123.06" width="4.6" height="2" fill="#4a4a4a"/>
<rect x="759.56" y="1123.06" width="4.6" height="2" fill="#4a4a4a"/>
<rect x="793.00" y="1123.06" width="4.6" height="2" fill="#4a4a4a"/>
<rect x="826.44" y="1123.06" width="4.6" height="2" fill="#4a4a4a"/>
<rect x="859.88" y="1123.06" width="4.6" height="2" fill="#4a4a4a"/>
<rect x="893.32" y="1123.06" width="4.6" height="2" fill="#4a4a4a"/>
<rect x="926.76" y="1123.06" width="4.6" height="2" fill="#4a4a4a"/>
<rect x="960.20" y="1123.06" width="4.6" height="2" fill="#4a4a4a"/>
<rect x="324.84" y="1157.15" width="4.6" height="2" fill="#4a4a4a"/>
<rect x="358.28" y="1157.15" width="4.6" height="2" fill="#4a4a4a"/>
<rect x="391.72" y="1157.15" width="4.6" height="2" fill="#4a4a4a"/>
<rect x="425.16" y="1157.15" width="4.6" height="2" fill="#4a4a4a"/>
<rect x="458.60" y="1157.15" width="4.6" height="2" fill="#4a4a4a"/>
<rect x="492.04" y="1157.15" width="4.6" height="2" fill="#4a4a4a"/>
<rect x="525.48" y="1157.15" width="4.6" height="2" fill="#4a4a4a"/>
<rect x="558.92" y="1157.15" width="4.6" height="2" fill="#4a4a4a"/>
<rect x="592.36" y="1157.15" width="4.6" height="2" fill="#4a4a4a"/>
<rect x="625.80" y="1157.15" width="4.6" height="2" fill="#4a4a4a"/>
<rect x="659.24" y="1157.15" width="4.6" height="2" fill="#4a4a4a"/>
<rect x="692.68" y="1157.15" width="4.6" height="2" fill="#4a4a4a"/>
<rect x="726.12" y="1157.15" width="4.6" height="2" fill="#4a4a4a"/>
<rect x="759.56" y="1157.15" width="4.6" height="2" fill="#4a4a4a"/>
<rect x="793.00" y="1157.15" width="4.6" height="2" fill="#4a4a4a"/>
<rect x="826.44" y="1157.15" width="4.6" height="2" fill="#4a4a4a"/>
<rect x="859.88" y="1157.15" width="4.6" height="2" fill="#4a4a4a"/>
<rect x="893.32" y="1157.15" width="4.6" height="2" fill="#4a4a4a"/>
<rect x="926.76" y="1157.15" width="4.6" height="2" fill="#4a4a4a"/>
<rect x="960.20" y="1157.15" width="4.6" height="2" fill="#4a4a4a"/>
<rect x="291.40" y="1191.24" width="4.6" height="2" fill="#4a4a4a"/>
<rect x="358.28" y="1191.24" width="4.6" height="2" fill="#4a4a4a"/>
<rect x="391.72" y="1191.24" width="4.6" height="2" fill="#4a4a4a"/>
<rect x="425.16" y="1191.24" width="4.6" height="2" fill="#4a4a4a"/>
<rect x="458.60" y="1191.24" width="4.6" height="2" fill="#4a4a4a"/>
<rect x="492.04" y="1191.24" width="4.6" height="2" fill="#4a4a4a"/>
<rect x="525.48" y="1191.24" width="4.6" height="2" fill="#4a4a4a"/>
<rect x="558.92" y="1191.24" width="4.6" height="2" fill="#4a4a4a"/>
<rect x="592.36" y="1191.24" width="4.6" height="2" fill="#4a4a4a"/>
<rect x="625.80" y="1191.24" width="4.6" height="2" fill="#4a4a4a"/>
<rect x="659.24" y="1191.24" width="4.6" height="2" fill="#4a4a4a"/>
<rect x="692.68" y="1191.24" width="4.6" height="2" fill="#4a4a4a"/>
<rect x="726.12" y="1191.24" width="4.6" height="2" fill="#4a4a4a"/>
<rect x="759.56" y="1191.24" width="4.6" height="2" fill="#4a4a4a"/>
<rect x="793.00" y="1191.24" width="4.6" height="2" fill="#4a4a4a"/>
<rect x="826.44" y="1191.24" width="4.6" height="2" fill="#4a4a4a"/>
<rect x="859.88" y="1191.24" width="4.6" height="2" fill="#4a4a4a"/>
<rect x="893.32" y="1191.24" width="4.6" height="2" fill="#4a4a4a"/>
<rect x="926.76" y="1191.24" width="4.6" height="2" fill="#4a4a4a"/>
<rect x="960.20" y="1191.24" width="4.6" height="2" fill="#4a4a4a"/>
<rect x="291.40" y="1225.34" width="4.6" height="2" fill="#4a4a4a"/>
<rect x="324.84" y="1225.34" width="4.6" height="2" fill="#4a4a4a"/>
<rect x="558.92" y="1225.34" width="4.6" height="2" fill="#4a4a4a"/>
<rect x="592.36" y="1225.34" width="4.6" height="2" fill="#4a4a4a"/>
<rect x="625.80" y="1225.34" width="4.6" height="2" fill="#4a4a4a"/>
<rect x="659.24" y="1225.34" width="4.6" height="2" fill="#4a4a4a"/>
<rect x="692.68" y="1225.34" width="4.6" height="2" fill="#4a4a4a"/>
<rect x="726.12" y="1225.34" width="4.6" height="2" fill="#4a4a4a"/>
<rect x="759.56" y="1225.34" width="4.6" height="2" fill="#4a4a4a"/>
<rect x="826.44" y="1225.34" width="4.6" height="2" fill="#4a4a4a"/>
<rect x="859.88" y="1225.34" width="4.6" height="2" fill="#4a4a4a"/>
<rect x="893.32" y="1225.34" width="4.6" height="2" fill="#4a4a4a"/>
<rect x="926.76" y="1225.34" width="4.6" height="2" fill="#4a4a4a"/>
<rect x="960.20" y="1225.34" width="4.6" height="2" fill="#4a4a4a"/>
<rect x="291.40" y="1259.43" width="4.6" height="2" fill="#4a4a4a"/>
<rect x="324.84" y="1259.43" width="4.6" height="2" fill="#4a4a4a"/>
<rect x="558.92" y="1259.43" width="4.6" height="2" fill="#4a4a4a"/>
<rect x="592.36" y="1259.43" width="4.6" height="2" fill="#4a4a4a"/>
<rect x="625.80" y="1259.43" width="4.6" height="2" fill="#4a4a4a"/>
<rect x="659.24" y="1259.43" width="4.6" height="2" fill="#4a4a4a"/>
<rect x="692.68" y="1259.43" width="4.6" height="2" fill="#4a4a4a"/>
<rect x="726.12" y="1259.43" width="4.6" height="2" fill="#4a4a4a"/>
<rect x="759.56" y="1259.43" width="4.6" height="2" fill="#4a4a4a"/>
<rect x="793.00" y="1259.43" width="4.6" height="2" fill="#4a4a4a"/>
<rect x="826.44" y="1259.43" width="4.6" height="2" fill="#4a4a4a"/>
<rect x="859.88" y="1259.43" width="4.6" height="2" fill="#4a4a4a"/>
<rect x="893.32" y="1259.43" width="4.6" height="2" fill="#4a4a4a"/>
<rect x="926.76" y="1259.43" width="4.6" height="2" fill="#4a4a4a"/>
<rect x="960.20" y="1259.43" width="4.6" height="2" fill="#4a4a4a"/>
<rect x="291.40" y="1293.52" width="4.6" height="2" fill="#4a4a4a"/>
<rect x="324.84" y="1293.52" width="4.6" height="2" fill="#4a4a4a"/>
<rect x="558.92" y="1293.52" width="4.6" height="2" fill="#4a4a4a"/>
<rect x="592.36" y="1293.52" width="4.6" height="2" fill="#4a4a4a"/>
<rect x="625.80" y="1293.52" width="4.6" height="2" fill="#4a4a4a"/>
<rect x="659.24" y="1293.52" width="4.6" height="2" fill="#4a4a4a"/>
<rect x="692.68" y="1293.52" width="4.6" height="2" fill="#4a4a4a"/>
<rect x="726.12" y="1293.52" width="4.6" height="2" fill="#4a4a4a"/>
<rect x="759.56" y="1293.52" width="4.6" height="2" fill="#4a4a4a"/>
<rect x="793.00" y="1293.52" width="4.6" height="2" fill="#4a4a4a"/>
<rect x="826.44" y="1293.52" width="4.6" height="2" fill="#4a4a4a"/>
<rect x="859.88" y="1293.52" width="4.6" height="2" fill="#4a4a4a"/>
<rect x="893.32" y="1293.52" width="4.6" height="2" fill="#4a4a4a"/>
<rect x="926.76" y="1293.52" width="4.6" height="2" fill="#4a4a4a"/>
<rect x="960.20" y="1293.52" width="4.6" height="2" fill="#4a4a4a"/>
<rect x="291.40" y="1327.62" width="4.6" height="2" fill="#4a4a4a"/>
<rect x="324.84" y="1327.62" width="4.6" height="2" fill="#4a4a4a"/>
<rect x="558.92" y="1327.62" width="4.6" height="2" fill="#4a4a4a"/>
<rect x="592.36" y="1327.62" width="4.6" height="2" fill="#4a4a4a"/>
<rect x="625.80" y="1327.62" width="4.6" height="2" fill="#4a4a4a"/>
<rect x="659.24" y="1327.62" width="4.6" height="2" fill="#4a4a4a"/>
<rect x="692.68" y="1327.62" width="4.6" height="2" fill="#4a4a4a"/>
<rect x="726.12" y="1327.62" width="4.6" height="2" fill="#4a4a4a"/>
<rect x="759.56" y="1327.62" width="4.6" height="2" fill="#4a4a4a"/>
<rect x="793.00" y="1327.62" width="4.6" height="2" fill="#4a4a4a"/>
<rect x="826.44" y="1327.62" width="4.6" height="2" fill="#4a4a4a"/>
<rect x="859.88" y="1327.62" width="4.6" height="2" fill="#4a4a4a"/>
<rect x="893.32" y="1327.62" width="4.6" height="2" fill="#4a4a4a"/>
<rect x="926.76" y="1327.62" width="4.6" height="2" fill="#4a4a4a"/>
<rect x="960.20" y="1327.62" width="4.6" height="2" fill="#4a4a4a"/>
<rect x="291.40" y="1361.71" width="4.6" height="2" fill="#4a4a4a"/>
<rect x="324.84" y="1361.71" width="4.6" height="2" fill="#4a4a4a"/>
<rect x="558.92" y="1361.71" width="4.6" height="2" fill="#4a4a4a"/>
<rect x="592.36" y="1361.71" width="4.6" height="2" fill="#4a4a4a"/>
<rect x="625.80" y="1361.71" width="4.6" height="2" fill="#4a4a4a"/>
<rect x="659.24" y="1361.71" width="4.6" height="2" fill="#4a4a4a"/>
<rect x="692.68" y="1361.71" width="4.6" height="2" fill="#4a4a4a"/>
<rect x="726.12" y="1361.71" width="4.6" height="2" fill="#4a4a4a"/>
<rect x="759.56" y="1361.71" width="4.6" height="2" fill="#4a4a4a"/>
<rect x="793.00" y="1361.71" width="4.6" height="2" fill="#4a4a4a"/>
<rect x="826.44" y="1361.71" width="4.6" height="2" fill="#4a4a4a"/>
<rect x="859.88" y="1361.71" width="4.6" height="2" fill="#4a4a4a"/>
<rect x="893.32" y="1361.71" width="4.6" height="2" fill="#4a4a4a"/>
<rect x="926.76" y="1361.71" width="4.6" height="2" fill="#4a4a4a"/>
<rect x="960.20" y="1361.71" width="4.6" height="2" fill="#4a4a4a"/>
<rect x="291.40" y="1395.80" width="4.6" height="2" fill="#4a4a4a"/>
<rect x="324.84" y="1395.80" width="4.6" height="2" fill="#4a4a4a"/>
<rect x="558.92" y="1395.80" width="4.6" height="2" fill="#4a4a4a"/>
<rect x="592.36" y="1395.80" width="4.6" height="2" fill="#4a4a4a"/>
<rect x="625.80" y="1395.80" width="4.6" height="2" fill="#4a4a4a"/>
<rect x="659.24" y="1395.80" width="4.6" height="2" fill="#4a4a4a"/>
<rect x="692.68" y="1395.80" width="4.6" height="2" fill="#4a4a4a"/>
<rect x="726.12" y="1395.80" width="4.6" height="2" fill="#4a4a4a"/>
<rect x="759.56" y="1395.80" width="4.6" height="2" fill="#4a4a4a"/>
<rect x="793.00" y="1395.80" width="4.6" height="2" fill="#4a4a4a"/>
<rect x="826.44" y="1395.80" width="4.6" height="2" fill="#4a4a4a"/>
<rect x="859.88" y="1395.80" width="4.6" height="2" fill="#4a4a4a"/>
<rect x="893.32" y="1395.80" width="4.6" height="2" fill="#4a4a4a"/>
<rect x="926.76" y="1395.80" width="4.6" height="2" fill="#4a4a4a"/>
<rect x="960.20" y="1395.80" width="4.6" height="2" fill="#4a4a4a"/>
<rect x="291.40" y="1429.90" width="4.6" height="2" fill="#4a4a4a"/>
<rect x="324.84" y="1429.90" width="4.6" height="2" fill="#4a4a4a"/>
<rect x="558.92" y="1429.90" width="4.6" height="2" fill="#4a4a4a"/>
<rect x="592.36" y="1429.90" width="4.6" height="2" fill="#4a4a4a"/>
<rect x="625.80" y="1429.90" width="4.6" height="2" fill="#4a4a4a"/>
<rect x="659.24" y="1429.90" width="4.6" height="2" fill="#4a4a4a"/>
<rect x="692.68" y="1429.90" width="4.6" height="2" fill="#4a4a4a"/>
<rect x="726.12" y="1429.90" width="4.6" height="2" fill="#4a4a4a"/>
<rect x="759.56" y="1429.90" width="4.6" height="2" fill="#4a4a4a"/>
<rect x="793.00" y="1429.90" width="4.6" height="2" fill="#4a4a4a"/>
<rect x="826.44" y="1429.90" width="4.6" height="2" fill="#4a4a4a"/>
<rect x="859.88" y="1429.90" width="4.6" height="2" fill="#4a4a4a"/>
<rect x="893.32" y="1429.90" width="4.6" height="2" fill="#4a4a4a"/>
<rect x="926.76" y="1429.90" width="4.6" height="2" fill="#4a4a4a"/>
<rect x="960.20" y="1429.90" width="4.6" height="2" fill="#4a4a4a"/>
<rect x="291.40" y="1463.99" width="4.6" height="2" fill="#4a4a4a"/>
<rect x="324.84" y="1463.99" width="4.6" height="2" fill="#4a4a4a"/>
<rect x="558.92" y="1463.99" width="4.6" height="2" fill="#4a4a4a"/>
<rect x="592.36" y="1463.99" width="4.6" height="2" fill="#4a4a4a"/>
<rect x="625.80" y="1463.99" width="4.6" height="2" fill="#4a4a4a"/>
<rect x="659.24" y="1463.99" width="4.6" height="2" fill="#4a4a4a"/>
<rect x="692.68" y="1463.99" width="4.6" height="2" fill="#4a4a4a"/>
<rect x="726.12" y="1463.99" width="4.6" height="2" fill="#4a4a4a"/>
<rect x="759.56" y="1463.99" width="4.6" height="2" fill="#4a4a4a"/>
<rect x="793.00" y="1463.99" width="4.6" height="2" fill="#4a4a4a"/>
<rect x="826.44" y="1463.99" width="4.6" height="2" fill="#4a4a4a"/>
<rect x="859.88" y="1463.99" width="4.6" height="2" fill="#4a4a4a"/>
<rect x="893.32" y="1463.99" width="4.6" height="2" fill="#4a4a4a"/>
<rect x="926.76" y="1463.99" width="4.6" height="2" fill="#4a4a4a"/>
<rect x="960.20" y="1463.99" width="4.6" height="2" fill="#4a4a4a"/>
<rect x="291.40" y="1498.09" width="4.6" height="2" fill="#4a4a4a"/>
<rect x="324.84" y="1498.09" width="4.6" height="2" fill="#4a4a4a"/>
<rect x="558.92" y="1498.09" width="4.6" height="2" fill="#4a4a4a"/>
<rect x="592.36" y="1498.09" width="4.6" height="2" fill="#4a4a4a"/>
<rect x="625.80" y="1498.09" width="4.6" height="2" fill="#4a4a4a"/>
<rect x="659.24" y="1498.09" width="4.6" height="2" fill="#4a4a4a"/>
<rect x="692.68" y="1498.09" width="4.6" height="2" fill="#4a4a4a"/>
<rect x="726.12" y="1498.09" width="4.6" height="2" fill="#4a4a4a"/>
<rect x="759.56" y="1498.09" width="4.6" height="2" fill="#4a4a4a"/>
<rect x="793.00" y="1498.09" width="4.6" height="2" fill="#4a4a4a"/>
<rect x="826.44" y="1498.09" width="4.6" height="2" fill="#4a4a4a"/>
<rect x="859.88" y="1498.09" width="4.6" height="2" fill="#4a4a4a"/>
<rect x="893.32" y="1498.09" width="4.6" height="2" fill="#4a4a4a"/>
<rect x="926.76" y="1498.09" width="4.6" height="2" fill="#4a4a4a"/>
<rect x="960.20" y="1498.09" width="4.6" height="2" fill="#4a4a4a"/>
<rect x="291.40" y="1532.18" width="4.6" height="2" fill="#4a4a4a"/>
<rect x="324.84" y="1532.18" width="4.6" height="2" fill="#4a4a4a"/>
<rect x="558.92" y="1532.18" width="4.6" height="2" fill="#4a4a4a"/>
<rect x="592.36" y="1532.18" width="4.6" height="2" fill="#4a4a4a"/>
<rect x="625.80" y="1532.18" width="4.6" height="2" fill="#4a4a4a"/>
<rect x="659.24" y="1532.18" width="4.6" height="2" fill="#4a4a4a"/>
<rect x="692.68" y="1532.18" width="4.6" height="2" fill="#4a4a4a"/>
<rect x="726.12" y="1532.18" width="4.6" height="2" fill="#4a4a4a"/>
<rect x="759.56" y="1532.18" width="4.6" height="2" fill="#4a4a4a"/>
<rect x="793.00" y="1532.18" width="4.6" height="2" fill="#4a4a4a"/>
<rect x="826.44" y="1532.18" width="4.6" height="2" fill="#4a4a4a"/>
<rect x="859.88" y="1532.18" width="4.6" height="2" fill="#4a4a4a"/>
<rect x="893.32" y="1532.18" width="4.6" height="2" fill="#4a4a4a"/>
<rect x="926.76" y="1532.18" width="4.6" height="2" fill="#4a4a4a"/>
<rect x="960.20" y="1532.18" width="4.6" height="2" fill="#4a4a4a"/>
<rect x="291.40" y="1566.27" width="4.6" height="2" fill="#4a4a4a"/>
<rect x="324.84" y="1566.27" width="4.6" height="2" fill="#4a4a4a"/>
<rect x="558.92" y="1566.27" width="4.6" height="2" fill="#4a4a4a"/>
<rect x="592.36" y="1566.27" width="4.6" height="2" fill="#4a4a4a"/>
<rect x="625.80" y="1566.27" width="4.6" height="2" fill="#4a4a4a"/>
<rect x="659.24" y="1566.27" width="4.6" height="2" fill="#4a4a4a"/>
<rect x="692.68" y="1566.27" width="4.6" height="2" fill="#4a4a4a"/>
<rect x="726.12" y="1566.27" width="4.6" height="2" fill="#4a4a4a"/>
<rect x="759.56" y="1566.27" width="4.6" height="2" fill="#4a4a4a"/>
<rect x="793.00" y="1566.27" width="4.6" height="2" fill="#4a4a4a"/>
<rect x="826.44" y="1566.27" width="4.6" height="2" fill="#4a4a4a"/>
<rect x="859.88" y="1566.27" width="4.6" height="2" fill="#4a4a4a"/>
<rect x="893.32" y="1566.27" width="4.6" height="2" fill="#4a4a4a"/>
<rect x="926.76" y="1566.27" width="4.6" height="2" fill="#4a4a4a"/>
<rect x="960.20" y="1566.27" width="4.6" height="2" fill="#4a4a4a"/>
<rect x="291.40" y="1600.37" width="4.6" height="2" fill="#4a4a4a"/>
<rect x="324.84" y="1600.37" width="4.6" height="2" fill="#4a4a4a"/>
<rect x="558.92" y="1600.37" width="4.6" height="2" fill="#4a4a4a"/>
<rect x="592.36" y="1600.37" width="4.6" height="2" fill="#4a4a4a"/>
<rect x="625.80" y="1600.37" width="4.6" height="2" fill="#4a4a4a"/>
<rect x="659.24" y="1600.37" width="4.6" height="2" fill="#4a4a4a"/>
<rect x="692.68" y="1600.37" width="4.6" height="2" fill="#4a4a4a"/>
<rect x="726.12" y="1600.37" width="4.6" height="2" fill="#4a4a4a"/>
<rect x="759.56" y="1600.37" width="4.6" height="2" fill="#4a4a4a"/>
<rect x="793.00" y="1600.37" width="4.6" height="2" fill="#4a4a4a"/>
<rect x="826.44" y="1600.37" width="4.6" height="2" fill="#4a4a4a"/>
<rect x="859.88" y="1600.37" width="4.6" height="2" fill="#4a4a4a"/>
<rect x="893.32" y="1600.37" width="4.6" height="2" fill="#4a4a4a"/>
<rect x="926.76" y="1600.37" width="4.6" height="2" fill="#4a4a4a"/>
<rect x="960.20" y="1600.37" width="4.6" height="2" fill="#4a4a4a"/>
<rect x="291.40" y="1634.46" width="4.6" height="2" fill="#4a4a4a"/>
<rect x="324.84" y="1634.46" width="4.6" height="2" fill="#4a4a4a"/>
<rect x="558.92" y="1634.46" width="4.6" height="2" fill="#4a4a4a"/>
<rect x="592.36" y="1634.46" width="4.6" height="2" fill="#4a4a4a"/>
<rect x="625.80" y="1634.46" width="4.6" height="2" fill="#4a4a4a"/>
<rect x="659.24" y="1634.46" width="4.6" height="2" fill="#4a4a4a"/>
<rect x="692.68" y="1634.46" width="4.6" height="2" fill="#4a4a4a"/>
<rect x="726.12" y="1634.46" width="4.6" height="2" fill="#4a4a4a"/>
<rect x="759.56" y="1634.46" width="4.6" height="2" fill="#4a4a4a"/>
<rect x="793.00" y="1634.46" width="4.6" height="2" fill="#4a4a4a"/>
<rect x="826.44" y="1634.46" width="4.6" height="2" fill="#4a4a4a"/>
<rect x="859.88" y="1634.46" width="4.6" height="2" fill="#4a4a4a"/>
<rect x="893.32" y="1634.46" width="4.6" height="2" fill="#4a4a4a"/>
<rect x="926.76" y="1634.46" width="4.6" height="2" fill="#4a4a4a"/>
<rect x="960.20" y="1634.46" width="4.6" height="2" fill="#4a4a4a"/>
<rect x="558.92" y="1668.55" width="4.6" height="2" fill="#4a4a4a"/>
<rect x="592.36" y="1668.55" width="4.6" height="2" fill="#4a4a4a"/>
<rect x="625.80" y="1668.55" width="4.6" height="2" fill="#4a4a4a"/>
<rect x="659.24" y="1668.55" width="4.6" height="2" fill="#4a4a4a"/>
<rect x="692.68" y="1668.55" width="4.6" height="2" fill="#4a4a4a"/>
<rect x="726.12" y="1668.55" width="4.6" height="2" fill="#4a4a4a"/>
<rect x="759.56" y="1668.55" width="4.6" height="2" fill="#4a4a4a"/>
<rect x="793.00" y="1668.55" width="4.6" height="2" fill="#4a4a4a"/>
<rect x="826.44" y="1668.55" width="4.6" height="2" fill="#4a4a4a"/>
<rect x="859.88" y="1668.55" width="4.6" height="2" fill="#4a4a4a"/>
<rect x="893.32" y="1668.55" width="4.6" height="2" fill="#4a4a4a"/>
<rect x="926.76" y="1668.55" width="4.6" height="2" fill="#4a4a4a"/>
<g stroke="#000" stroke-width="2"><line x1="277" y1="83.20" x2="277" y2="1687.60" stroke-opacity="0.16"/><line x1="310" y1="83.20" x2="310" y2="1687.60" stroke-opacity="0.47"/><line x1="343" y1="83.20" x2="343" y2="1687.60" stroke-opacity="0.33"/><line x1="377" y1="83.20" x2="377" y2="1687.60" stroke-opacity="0.33"/><line x1="410" y1="83.20" x2="410" y2="1687.60" stroke-opacity="0.33"/><line x1="444" y1="83.20" x2="444" y2="1687.60" stroke-opacity="0.33"/><line x1="477" y1="83.20" x2="477" y2="1687.60" stroke-opacity="0.47"/><line x1="510" y1="83.20" x2="510" y2="1687.60" stroke-opacity="0.47"/><line x1="544" y1="83.20" x2="544" y2="1687.60" stroke-opacity="0.47"/><line x1="577" y1="83.20" x2="577" y2="1687.60" stroke-opacity="0.33"/><line x1="611" y1="83.20" x2="611" y2="1687.60" stroke-opacity="0.33"/><line x1="644" y1="83.20" x2="644" y2="1687.60" stroke-opacity="0.33"/><line x1="677" y1="83.20" x2="677" y2="1687.60" stroke-opacity="0.33"/><line x1="711" y1="83.20" x2="711" y2="1687.60" stroke-opacity="0.47"/><line x1="744" y1="83.20" x2="744" y2="1687.60" stroke-opacity="0.47"/><line x1="778" y1="83.20" x2="778" y2="1687.60" stroke-opacity="0.47"/><line x1="811" y1="83.20" x2="811" y2="1687.60" stroke-opacity="0.16"/><line x1="844" y1="83.20" x2="844" y2="1687.60" stroke-opacity="0.16"/><line x1="878" y1="83.20" x2="878" y2="1687.60" stroke-opacity="0.16"/><line x1="911" y1="83.20" x2="911" y2="1687.60" stroke-opacity="0.16"/><line x1="945" y1="83.20" x2="945" y2="1687.60" stroke-opacity="0.47"/><line x1="978" y1="83.20" x2="978" y2="1687.60" stroke-opacity="0.33"/><line x1="275.50" y1="84" x2="979.10" y2="84" stroke-opacity="0.16"/><line x1="275.50" y1="118" x2="979.10" y2="118" stroke-opacity="0.47"/><line x1="275.50" y1="152" x2="979.10" y2="152" stroke-opacity="0.16"/><line x1="275.50" y1="186" x2="979.10" y2="186" stroke-opacity="0.47"/><line x1="275.50" y1="221" x2="979.10" y2="221" stroke-opacity="0.16"/><line x1="275.50" y1="255" x2="979.10" y2="255" stroke-opacity="0.47"/><line x1="275.50" y1="289" x2="979.10" y2="289" stroke-opacity="0.16"/><line x1="275.50" y1="323" x2="979.10" y2="323" stroke-opacity="0.47"/><line x1="275.50" y1="357" x2="979.10" y2="357" stroke-opacity="0.47"/><line x1="275.50" y1="391" x2="979.10" y2="391" stroke-opacity="0.16"/><line x1="275.50" y1="425" x2="979.10" y2="425" stroke-opacity="0.47"/><line x1="275.50" y1="459" x2="979.10" y2="459" stroke-opacity="0.47"/><line x1="275.50" y1="493" x2="979.10" y2="493" stroke-opacity="0.47"/><line x1="275.50" y1="527" x2="979.10" y2="527" stroke-opacity="0.16"/><line x1="275.50" y1="562" x2="979.10" y2="562" stroke-opacity="0.47"/><line x1="275.50" y1="596" x2="979.10" y2="596" stroke-opacity="0.16"/><line x1="275.50" y1="630" x2="979.10" y2="630" stroke-opacity="0.33"/><line x1="275.50" y1="664" x2="979.10" y2="664" stroke-opacity="0.47"/><line x1="275.50" y1="698" x2="979.10" y2="698" stroke-opacity="0.47"/><line x1="275.50" y1="732" x2="979.10" y2="732" stroke-opacity="0.47"/><line x1="275.50" y1="766" x2="979.10" y2="766" stroke-opacity="0.16"/><line x1="275.50" y1="800" x2="979.10" y2="800" stroke-opacity="0.47"/><line x1="275.50" y1="834" x2="979.10" y2="834" stroke-opacity="0.16"/><line x1="275.50" y1="868" x2="979.10" y2="868" stroke-opacity="0.47"/><line x1="275.50" y1="902" x2="979.10" y2="902" stroke-opacity="0.47"/><line x1="275.50" y1="937" x2="979.10" y2="937" stroke-opacity="0.47"/><line x1="275.50" y1="971" x2="979.10" y2="971" stroke-opacity="0.16"/><line x1="275.50" y1="1005" x2="979.10" y2="1005" stroke-opacity="0.16"/><line x1="275.50" y1="1039" x2="979.10" y2="1039" stroke-opacity="0.47"/><line x1="275.50" y1="1073" x2="979.10" y2="1073" stroke-opacity="0.16"/><line x1="275.50" y1="1107" x2="979.10" y2="1107" stroke-opacity="0.47"/><line x1="275.50" y1="1141" x2="979.10" y2="1141" stroke-opacity="0.47"/><line x1="275.50" y1="1175" x2="979.10" y2="1175" stroke-opacity="0.47"/><line x1="275.50" y1="1209" x2="979.10" y2="1209" stroke-opacity="0.16"/><line x1="275.50" y1="1243" x2="979.10" y2="1243" stroke-opacity="0.33"/><line x1="275.50" y1="1277" x2="979.10" y2="1277" stroke-opacity="0.47"/><line x1="275.50" y1="1312" x2="979.10" y2="1312" stroke-opacity="0.16"/><line x1="275.50" y1="1346" x2="979.10" y2="1346" stroke-opacity="0.47"/><line x1="275.50" y1="1380" x2="979.10" y2="1380" stroke-opacity="0.47"/><line x1="275.50" y1="1414" x2="979.10" y2="1414" stroke-opacity="0.47"/><line x1="275.50" y1="1448" x2="979.10" y2="1448" stroke-opacity="0.16"/><line x1="275.50" y1="1482" x2="979.10" y2="1482" stroke-opacity="0.47"/><line x1="275.50" y1="1516" x2="979.10" y2="1516" stroke-opacity="0.47"/><line x1="275.50" y1="1550" x2="979.10" y2="1550" stroke-opacity="0.16"/><line x1="275.50" y1="1584" x2="979.10" y2="1584" stroke-opacity="0.47"/><line x1="275.50" y1="1618" x2="979.10" y2="1618" stroke-opacity="0.47"/><line x1="275.50" y1="1653" x2="979.10" y2="1653" stroke-opacity="0.33"/><line x1="275.50" y1="1687" x2="979.10" y2="1687" stroke-opacity="0.16"/></g>
<g fill="url(#h)"><rect x="677.91" y="118.79" width="32.91" height="33.09"/><rect x="710.82" y="118.79" width="33.41" height="33.59"/><rect x="744.23" y="118.79" width="33.41" height="33.59"/><rect x="777.64" y="118.79" width="32.91" height="33.59"/><rect x="911.78" y="118.79" width="32.91" height="33.09"/><rect x="944.69" y="118.79" width="32.91" height="33.09"/><rect x="711.32" y="152.39" width="32.91" height="33.59"/><rect x="744.23" y="152.39" width="33.41" height="33.59"/><rect x="777.64" y="152.39" width="32.91" height="33.59"/><rect x="677.91" y="221.07" width="32.91" height="33.59"/><rect x="710.82" y="221.07" width="33.41" height="33.59"/><rect x="744.23" y="221.07" width="33.41" height="33.59"/><rect x="777.64" y="221.07" width="32.91" height="33.59"/><rect x="911.78" y="221.07" width="32.91" height="33.09"/><rect x="944.69" y="221.07" width="32.91" height="33.59"/><rect x="677.91" y="254.67" width="32.91" height="34.09"/><rect x="710.82" y="254.67" width="33.41" height="34.09"/><rect x="744.23" y="254.67" width="33.41" height="34.09"/><rect x="777.64" y="254.67" width="32.91" height="34.09"/><rect x="945.19" y="254.67" width="32.41" height="34.09"/><rect x="677.91" y="288.76" width="32.91" height="34.09"/><rect x="710.82" y="288.76" width="33.41" height="34.09"/><rect x="744.23" y="288.76" width="33.41" height="34.09"/><rect x="777.64" y="288.76" width="32.91" height="34.09"/><rect x="911.78" y="289.26" width="32.91" height="33.09"/><rect x="944.69" y="288.76" width="32.91" height="33.59"/><rect x="677.91" y="322.86" width="32.91" height="33.59"/><rect x="710.82" y="322.86" width="33.41" height="33.59"/><rect x="744.23" y="322.86" width="33.41" height="33.59"/><rect x="777.64" y="322.86" width="32.91" height="33.59"/></g>
<path d="M710.82,118.29V152.39M710.82,220.57V356.95M744.23,118.29V356.95M677.41,254.67H811.05M677.41,322.86H811.05M944.69,254.67H978.10" stroke="#000" stroke-opacity="0.35" stroke-width="1" fill="none"/>
<path d="M710.82,152.39H811.05M677.41,288.76H811.05M944.69,288.76H978.10M777.04,118.29V356.95M944.69,118.29V152.39M944.69,220.57V254.67M944.69,288.76V322.86" stroke="#fff" stroke-opacity="0.55" stroke-width="1" fill="none"/>
<path d="M270,101.25H276.50M270,135.34H276.50M270,169.43H276.50M270,203.53H276.50M270,237.62H276.50M270,271.71H276.50M270,305.81H276.50M270,339.90H276.50M270,374.00H276.50M270,408.09H276.50M270,442.18H276.50M270,476.28H276.50M270,510.37H276.50M270,544.46H276.50M270,578.56H276.50M270,612.65H276.50M270,646.74H276.50M270,680.84H276.50M270,714.93H276.50M270,749.03H276.50M270,783.12H276.50M270,817.21H276.50M270,851.31H276.50M270,885.40H276.50M270,919.49H276.50M270,953.59H276.50M270,987.68H276.50M270,1021.77H276.50M270,1055.87H276.50M270,1089.96H276.50M270,1124.06H276.50M270,1158.15H276.50M270,1192.24H276.50M270,1226.34H276.50M270,1260.43H276.50M270,1294.52H276.50M270,1328.62H276.50M270,1362.71H276.50M270,1396.80H276.50M270,1430.90H276.50M270,1464.99H276.50M270,1499.09H276.50M270,1533.18H276.50M270,1567.27H276.50M270,1601.37H276.50M270,1635.46H276.50M270,1669.55H276.50M293.40,77V84.20M326.84,77V84.20M360.28,77V84.20M393.72,77V84.20M427.16,77V84.20M460.60,77V84.20M494.04,77V84.20M527.48,77V84.20M560.92,77V84.20M594.36,77V84.20M627.80,77V84.20M661.24,77V84.20M694.68,77V84.20M728.12,77V84.20M761.56,77V84.20M795.00,77V84.20M828.44,77V84.20M861.88,77V84.20M895.32,77V84.20M928.76,77V84.20M962.20,77V84.20" stroke="#2a2a2a" stroke-width="1.8" fill="none"/>
<g font-size="19.4" fill="#1a1a1a" stroke="#1a1a1a" stroke-width="0.15" text-anchor="end">
<text x="262.5" y="107.85">3FTX</text>
<text x="262.5" y="141.94">S-α-NTX</text>
<text x="262.5" y="176.03">S-O Gp I</text>
<text x="262.5" y="210.13">S-O Gp VIII</text>
<text x="262.5" y="244.22">L-α-NTX</text>
<text x="262.5" y="278.31">WTX</text>
<text x="262.5" y="312.41">MTLP</text>
<text x="262.5" y="346.50">CTX</text>
<text x="262.5" y="381.30">PLA2</text>
<text x="262.5" y="415.39">SVMP</text>
<text x="262.5" y="449.48">NGF</text>
<text x="262.5" y="483.58">SVSP</text>
<text x="262.5" y="517.67">CRISP</text>
<text x="262.5" y="551.76">NP</text>
<text x="262.5" y="585.86">KSPI</text>
<text x="262.5" y="619.95">CVF</text>
<text x="262.5" y="654.04">SNACLEC</text>
<text x="262.5" y="688.14">LAAO</text>
<text x="262.5" y="722.23">PDE</text>
<text x="262.5" y="756.33">5’-NUC</text>
<text x="262.5" y="790.42">CYS</text>
<text x="262.5" y="824.51">VES</text>
<text x="262.5" y="858.61">CREGF</text>
<text x="262.5" y="892.70">AChE</text>
<text x="262.5" y="926.79">VEGF</text>
<text x="262.5" y="960.89">DPP IV</text>
<text x="262.5" y="994.98">PLB</text>
<text x="262.5" y="1029.07">IGF</text>
<text x="262.5" y="1063.17">AP</text>
<text x="262.5" y="1097.26">WA</text>
<text x="262.5" y="1131.36">HYA</text>
<text x="262.5" y="1165.45">CF</text>
<text x="262.5" y="1199.54">GPX</text>
<text x="262.5" y="1233.64">CTL</text>
<text x="262.5" y="1267.73">U-II</text>
<text x="262.5" y="1301.82">TCTP</text>
<text x="262.5" y="1335.92">TBC</text>
<text x="262.5" y="1370.01">Peptidase S10</text>
<text x="262.5" y="1404.10">Peptidase M13</text>
<text x="262.5" y="1438.20">MCO</text>
<text x="262.5" y="1472.29">HAP</text>
<text x="262.5" y="1506.39">GH 13</text>
<text x="262.5" y="1540.48">CAMP</text>
<text x="262.5" y="1574.57">ATP-GUA</text>
<text x="262.5" y="1608.67">ARMT1</text>
<text x="262.5" y="1642.76">ABHD</text>
<text x="262.5" y="1676.85">ChE</text>
</g>
<g font-size="19.3" fill="#1a1a1a" stroke="#1a1a1a" stroke-width="0.15">
<text transform="translate(297.30,70) rotate(-90)">NN-01</text>
<text transform="translate(330.74,70) rotate(-90)">NN-02</text>
<text transform="translate(364.18,70) rotate(-90)">NN-03</text>
<text transform="translate(397.62,70) rotate(-90)">NN-04</text>
<text transform="translate(431.06,70) rotate(-90)">NN-05</text>
<text transform="translate(464.50,70) rotate(-90)">NN-06</text>
<text transform="translate(497.94,70) rotate(-90)">NN-07</text>
<text transform="translate(531.38,70) rotate(-90)">NN-08</text>
<text transform="translate(564.82,70) rotate(-90)">NN-09</text>
<text transform="translate(598.26,70) rotate(-90)">NN-10</text>
<text transform="translate(631.70,70) rotate(-90)">NN-11</text>
<text transform="translate(665.14,70) rotate(-90)">NN-12</text>
<text transform="translate(698.58,70) rotate(-90)">NN-13</text>
<text transform="translate(732.02,70) rotate(-90)">NN-14</text>
<text transform="translate(765.46,70) rotate(-90)">NN-15</text>
<text transform="translate(798.90,70) rotate(-90)">NN-16</text>
<text transform="translate(832.34,70) rotate(-90)">NN-17</text>
<text transform="translate(865.78,70) rotate(-90)">NN-18</text>
<text transform="translate(899.22,70) rotate(-90)">NN-19</text>
<text transform="translate(932.66,70) rotate(-90)">NN-20</text>
<text transform="translate(966.10,70) rotate(-90)">NN-21</text>
</g>
<ellipse cx="136" cy="825.2" rx="0.8" ry="1.9" fill="#444"/>
<path d="M147,134.7H136.2V337.2H147" stroke="#111" stroke-width="2" fill="none"/>
<g font-size="17.9" font-weight="bold" fill="#111" text-anchor="middle"><text transform="translate(57.6,224.7) scale(1.035,1)">3FTX</text><text transform="translate(57.4,247) scale(1.035,1)">subfamilies</text></g>
<rect x="1022.40" y="484.40" width="39.50" height="801.60" fill="url(#cb)"/>
<path d="M1061.90,1286.00H1069.5M1061.90,1125.68H1069.5M1061.90,965.36H1069.5M1061.90,805.04H1069.5M1061.90,644.72H1069.5M1061.90,484.40H1069.5" stroke="#333" stroke-width="1.7"/>
<g font-size="19" fill="#1a1a1a" stroke="#1a1a1a" stroke-width="0.15"><text x="1077.5" y="1293.20">0.0</text><text x="1077.5" y="1132.88">0.2</text><text x="1077.5" y="972.56">0.4</text><text x="1077.5" y="812.24">0.6</text><text x="1077.5" y="651.92">0.8</text><text x="1077.5" y="491.60">1.0</text></g>
<rect x="1037.3" y="1481.4" width="58" height="28.6" fill="#ff3399"/>
<rect x="1037.3" y="1513.7" width="58" height="29.5" fill="#ffc000"/>
<g font-size="28.5" font-weight="bold" fill="#000" text-anchor="middle"><text transform="translate(1066.3,1505) scale(0.95,1)">T</text><text transform="translate(1066.3,1538.5) scale(0.95,1)">P</text></g>
<g font-size="27.6" fill="#111" stroke="#111" stroke-width="0.25"><text x="1115.3" y="1504.3">Transcriptome</text><text x="1115.3" y="1538.7">Proteome</text></g>
<rect x="273.80" y="1710.1" width="32.90" height="46.6" fill="#ff3399"/>
<rect x="306.70" y="1710.1" width="36.90" height="46.6" fill="#ffc000"/>
<rect x="343.60" y="1710.1" width="201.60" height="46.6" fill="#ff3399"/>
<rect x="545.20" y="1710.1" width="436.20" height="46.6" fill="#ffc000"/>
<g font-size="33" font-weight="bold" fill="#000" text-anchor="middle">
<text transform="translate(290.25,1745.8) scale(0.93,1)">T</text>
<text transform="translate(325.15,1745.8) scale(0.93,1)">P</text>
<text transform="translate(444.40,1745.8) scale(0.93,1)">T</text>
<text transform="translate(763.30,1745.8) scale(0.93,1)">P</text>
</g>
</svg></body></html>
